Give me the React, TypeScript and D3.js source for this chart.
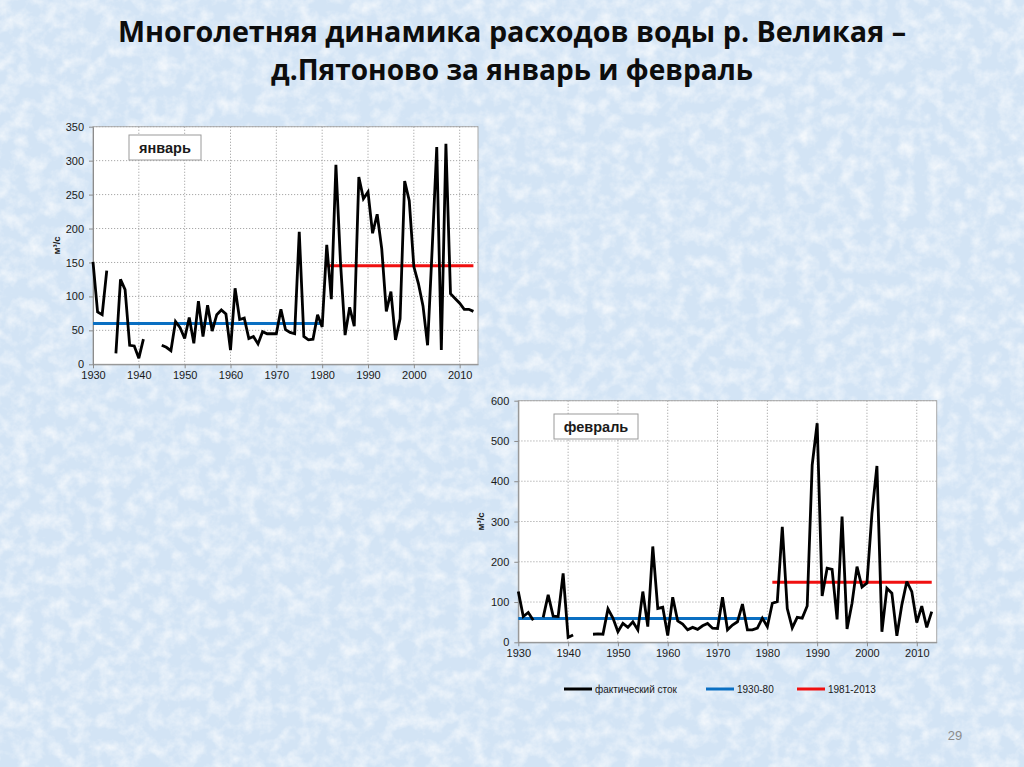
import React, { useEffect, useRef } from 'react'
import * as d3 from 'd3'

// --- data ---
const TITLE_LINES = ['Многолетняя динамика  расходов воды р. Великая –', 'д.Пятоново за январь и февраль']

const YEARS = d3.range(1930, 2014)
const X_TICKS = [1930, 1940, 1950, 1960, 1970, 1980, 1990, 2000, 2010]
const JAN_Y_TICKS = [0, 50, 100, 150, 200, 250, 300, 350]
const FEB_Y_TICKS = [0, 100, 200, 300, 400, 500, 600]

// фактический сток, январь, 1930..2013 (null = нет данных)
const JAN_FLOW = [
    151, 77, 73, 138, null, 16, 125, 110, 28, 27,
    9, 37, null, null, null, 28, 25, 20, 63, 54,
    38, 69, 31, 93, 41, 87, 49, 73, 80, 74,
    21, 112, 66, 68, 38, 41, 30, 48, 45, 45,
    45, 81, 51, 47, 45, 195, 41, 36, 37, 73,
    55, 176, 96, 294, 150, 43, 84, 56, 276, 244,
    254, 193, 221, 170, 78, 107, 36, 67, 270, 241,
    144, 119, 86, 28, 170, 320, 21, 325, 104, 97,
    90, 81, 81, 78
]

// фактический сток, февраль, 1930..2013
const FEB_FLOW = [
    126, 64, 74, 55, null, 62, 118, 65, 64, 171,
    12, 18, null, null, null, 20, 21, 20, 83, 60,
    26, 47, 37, 51, 31, 126, 39, 238, 84, 87,
    17, 112, 53, 45, 31, 37, 32, 41, 47, 35,
    34, 112, 31, 43, 51, 95, 31, 31, 35, 60,
    39, 97, 101, 287, 84, 36, 62, 60, 90, 440,
    544, 115, 184, 181, 57, 312, 33, 97, 188, 137,
    147, 320, 438, 26, 134, 122, 16, 93, 151, 126,
    49, 90, 37, 76
]

const PERIODS = [
    { label: '1930-80', from: 1930, to: 1980 },
    { label: '1981-2013', from: 1981, to: 2013 },
]
const JAN_MEANS = [60, 145]
const FEB_MEANS = [59, 149]

const LEGEND_LABELS = ['фактический сток', '1930-80', '1981-2013']

const BLUE = '#0a6fc2'
const RED = '#f01010'
const AXIS_FONT = '"Liberation Sans", Arial, sans-serif'

type Panel = {
    left: number, right: number, top: number, bottom: number,
    yTicks: number[], values: (number | null)[], means: number[],
    label: string, box: { x: number, y: number, w: number, h: number },
    unitX: number
}

function drawPanel(svg: any, p: Panel) {
    const x = d3.scaleLinear().domain([1930, 2014]).range([p.left, p.right])
    const y = d3.scaleLinear().domain([0, d3.max(p.yTicks) as number]).range([p.bottom, p.top])

    const g = svg.append('g')

    g.append('rect')
        .attr('x', p.left).attr('y', p.top)
        .attr('width', p.right - p.left).attr('height', p.bottom - p.top)
        .attr('fill', '#fff')
        .attr('stroke', '#a9a9a9')

    // grid
    g.selectAll('.hgrid')
        .data(p.yTicks.slice(1))
        .join('line')
        .attr('x1', p.left).attr('x2', p.right)
        .attr('y1', d => y(d)).attr('y2', d => y(d))
        .attr('stroke', '#a8a8a8')
        .attr('stroke-dasharray', '1.2,1.8')
    g.selectAll('.vgrid')
        .data(X_TICKS.slice(1))
        .join('line')
        .attr('x1', d => x(d)).attr('x2', d => x(d))
        .attr('y1', p.top).attr('y2', p.bottom)
        .attr('stroke', '#a8a8a8')
        .attr('stroke-dasharray', '1.2,1.8')

    const yAxis = g.append('g')
        .attr('transform', `translate(${p.left},0)`)
        .call(d3.axisLeft(y).tickValues(p.yTicks).tickSize(4).tickSizeOuter(0).tickPadding(5))
    const xAxis = g.append('g')
        .attr('transform', `translate(0,${p.bottom})`)
        .call(d3.axisBottom(x).tickValues(X_TICKS).tickFormat(d3.format('d')).tickSize(4).tickSizeOuter(0).tickPadding(3))
    for (const a of [yAxis, xAxis]) {
        a.select('.domain').attr('stroke', '#8c8c8c')
        a.selectAll('line').attr('stroke', '#8c8c8c')
        a.selectAll('text')
            .attr('fill', '#1a1a1a')
            .attr('font-family', AXIS_FONT)
            .attr('font-size', 11)
    }

    g.append('text')
        .attr('transform', `translate(${p.unitX},${(p.top + p.bottom) / 2}) rotate(-90)`)
        .attr('text-anchor', 'middle')
        .attr('font-family', AXIS_FONT)
        .attr('font-size', 9.5)
        .attr('font-weight', 'bold')
        .attr('fill', '#1a1a1a')
        .text('м³/с')

    // period means
    PERIODS.forEach((per, i) => {
        g.append('line')
            .attr('x1', x(per.from)).attr('x2', x(per.to))
            .attr('y1', y(p.means[i])).attr('y2', y(p.means[i]))
            .attr('stroke', i === 0 ? BLUE : RED)
            .attr('stroke-width', 3)
    })

    const line = d3.line<number | null>()
        .defined(d => d != null)
        .x((d, i) => x(YEARS[i]))
        .y(d => y(d as number))

    g.append('path')
        .datum(p.values)
        .attr('d', line)
        .attr('fill', 'none')
        .attr('stroke', '#000')
        .attr('stroke-width', 2.8)
        .attr('stroke-linejoin', 'miter')
        .attr('stroke-miterlimit', 3)

    g.append('rect')
        .attr('x', p.box.x).attr('y', p.box.y)
        .attr('width', p.box.w).attr('height', p.box.h)
        .attr('fill', '#fff')
        .attr('stroke', '#9a9a9a')
    g.append('text')
        .attr('x', p.box.x + p.box.w / 2)
        .attr('y', p.box.y + p.box.h / 2 + 5)
        .attr('text-anchor', 'middle')
        .attr('font-family', AXIS_FONT)
        .attr('font-weight', 'bold')
        .attr('font-size', 14.5)
        .attr('fill', '#1a1a1a')
        .text(p.label)
}

const App = () => {
    const ref = useRef<SVGSVGElement>(null)

    useEffect(() => {
        const svg = d3.select(ref.current)
        svg.selectAll('*').remove()

        // frosted slide background
        const defs = svg.append('defs')
        const f = defs.append('filter').attr('id', 'frost')
            .attr('x', 0).attr('y', 0).attr('width', '100%').attr('height', '100%')
        f.append('feTurbulence')
            .attr('type', 'fractalNoise')
            .attr('baseFrequency', '0.07')
            .attr('numOctaves', 4)
            .attr('seed', 11)
        f.append('feColorMatrix')
            .attr('type', 'matrix')
            .attr('values', '0 0 0 0 1  0 0 0 0 1  0 0 0 0 1  1.3 0 0 0 -0.5')

        svg.append('rect').attr('width', 1024).attr('height', 767).attr('fill', '#d3e4f5')
        svg.append('rect').attr('width', 1024).attr('height', 767).attr('filter', 'url(#frost)')

        svg.selectAll('.title')
            .data(TITLE_LINES)
            .join('text')
            .attr('x', 512)
            .attr('y', (d, i) => 42 + i * 38)
            .attr('text-anchor', 'middle')
            .attr('font-family', '"Open Sans", Lato, sans-serif')
            .attr('font-weight', 'bold')
            .attr('font-size', 29)
            .attr('fill', '#0d0d0d')
            .attr('textLength', (d, i) => i === 0 ? 788 : 482)
            .attr('lengthAdjust', 'spacingAndGlyphs')
            .text(d => d)

        drawPanel(svg, {
            left: 93, right: 478, top: 126.7, bottom: 364.3,
            yTicks: JAN_Y_TICKS, values: JAN_FLOW, means: JAN_MEANS,
            label: 'январь', box: { x: 129, y: 135, w: 72, h: 25 }, unitX: 60
        })
        drawPanel(svg, {
            left: 518.3, right: 936.7, top: 400.7, bottom: 642.3,
            yTicks: FEB_Y_TICKS, values: FEB_FLOW, means: FEB_MEANS,
            label: 'февраль', box: { x: 554, y: 414, w: 84, h: 25 }, unitX: 484
        })

        // legend
        const legendX = [564, 706, 797]
        const legendColors = ['#000', BLUE, RED]
        const lg = svg.append('g')
        LEGEND_LABELS.forEach((lab, i) => {
            lg.append('line')
                .attr('x1', legendX[i]).attr('x2', legendX[i] + 28)
                .attr('y1', 689).attr('y2', 689)
                .attr('stroke', legendColors[i])
                .attr('stroke-width', 3)
            lg.append('text')
                .attr('x', legendX[i] + 31)
                .attr('y', 692.5)
                .attr('font-family', AXIS_FONT)
                .attr('font-size', 10)
                .attr('fill', '#1a1a1a')
                .text(lab)
        })

        svg.append('text')
            .attr('x', 955).attr('y', 740)
            .attr('text-anchor', 'middle')
            .attr('font-family', AXIS_FONT)
            .attr('font-size', 13)
            .attr('fill', '#8c8c8c')
            .text('29')
    }, [])

    return (
        <svg ref={ref} width={1024} height={767} viewBox='0 0 1024 767'
            style={{ position: 'absolute', left: 0, top: 0, display: 'block' }} />
    )
}

export default App
